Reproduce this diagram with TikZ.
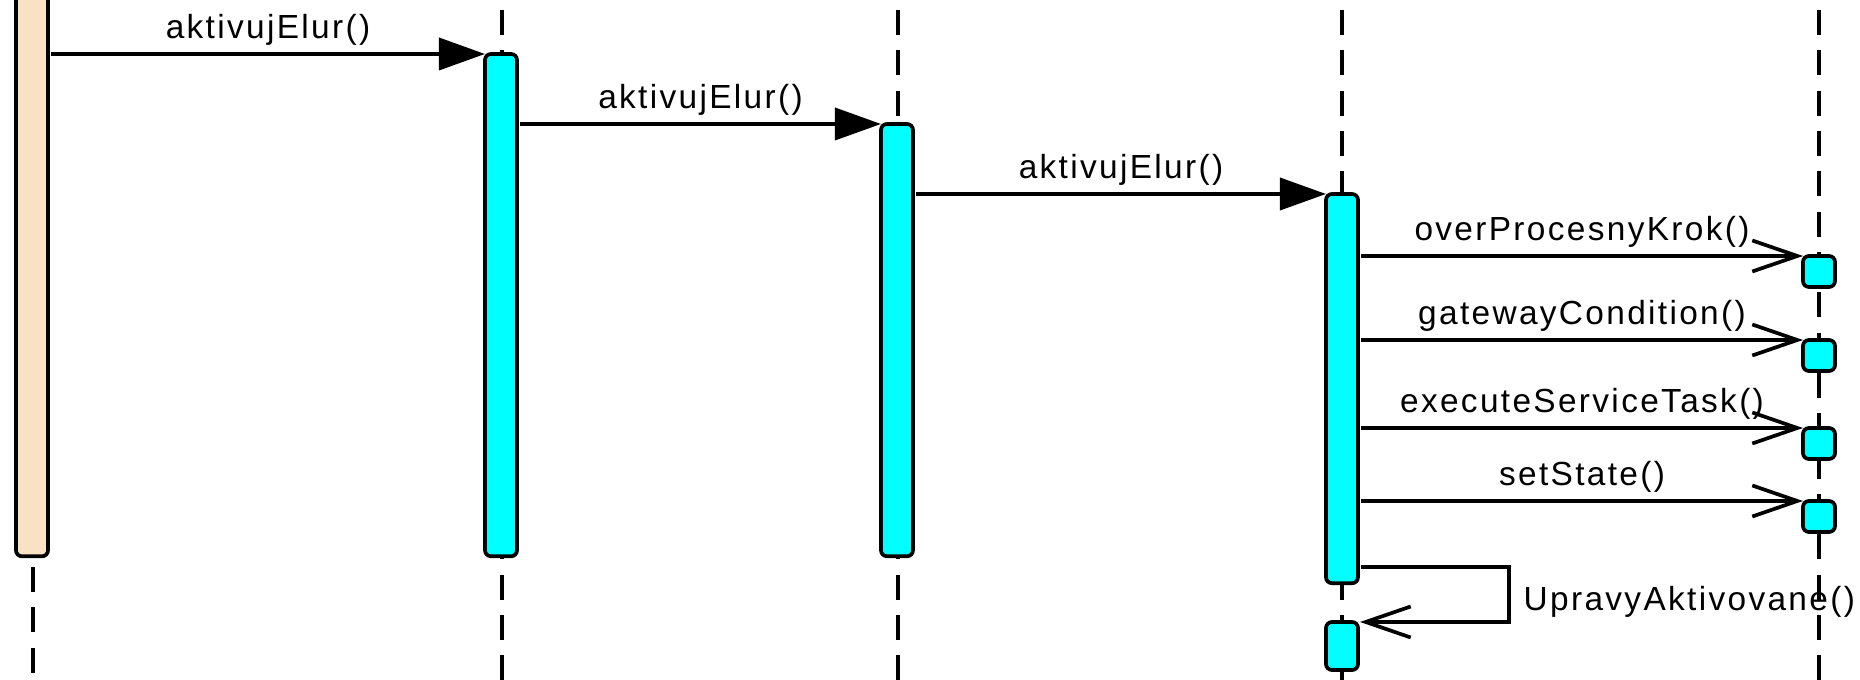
\documentclass[tikz,border=0pt]{standalone}
\usepackage{fontspec}
\setmainfont{Liberation Sans}[LetterSpace=7]
\usetikzlibrary{arrows.meta}
\definecolor{actcyan}{RGB}{0,255,255}
\definecolor{actbeige}{RGB}{249,225,195}
\begin{document}
\begin{tikzpicture}[x=0.01cm,y=-0.01cm,
  font=\fontsize{9.5pt}{11pt}\selectfont,
  lw/.style={line width=1.05pt},
  lifeline/.style={lw,dash pattern=on 0.25cm off 0.153cm},
  actbar/.style={draw,lw,fill=actcyan,rounded corners=0.06cm,minimum width=0.32cm,inner sep=0pt,outer sep=0pt,anchor=north},
  startbar/.style={actbar,fill=actbeige},
  callmsg/.style={lw,-{Triangle[length=0.46cm,width=0.32cm]}},
  asyncmsg/.style={lw,-{Straight Barb[length=0.45cm,width=0.31cm,line width=1.05pt]}},
  lbl/.style={anchor=base,inner sep=0pt,yshift=0.15cm}
]
\useasboundingbox (0,0) rectangle (1860,680);
% lifelines
\coordinate (l0t) at (33,567); \coordinate (l0b) at (33,700);
\coordinate (l1t) at (502,10); \coordinate (l1b) at (502,700);
\coordinate (l2t) at (898,10); \coordinate (l2b) at (898,700);
\coordinate (l3t) at (1342,10); \coordinate (l3b) at (1342,700);
\coordinate (l4t) at (1819,10); \coordinate (l4b) at (1819,700);
\draw[lifeline] (l0t) -- (l0b);
\draw[lifeline] (l1t) -- (l1b);
\draw[lifeline] (l2t) -- (l2b);
\draw[lifeline] (l3t) -- (l3b);
\draw[lifeline] (l4t) -- (l4b);
% activation bars
\node[startbar,minimum height=5.66cm] (b0) at (32,-10) {};
\node[actbar,minimum height=5.02cm] (a1) at (501,54) {};
\node[actbar,minimum height=4.32cm] (a2) at (897,124) {};
\node[actbar,minimum height=3.89cm] (a3) at (1342,194) {};
\node[actbar,minimum height=0.48cm] (a3b) at (1342,622) {};
\node[actbar,minimum height=0.31cm] (s1) at (1819,256) {};
\node[actbar,minimum height=0.31cm] (s2) at (1819,340) {};
\node[actbar,minimum height=0.31cm] (s3) at (1819,428) {};
\node[actbar,minimum height=0.31cm] (s4) at (1819,501) {};
% synchronous calls
\draw[callmsg] ([xshift=0.03cm]b0.east |- a1.north west) -- node[lbl] (t1) {aktivujElur()} (a1.north west);
\draw[callmsg] ([xshift=0.03cm]a1.east |- a2.north west) -- node[lbl] (t2) {aktivujElur()} (a2.north west);
\draw[callmsg] ([xshift=0.03cm]a2.east |- a3.north west) -- node[lbl] (t3) {aktivujElur()} (a3.north west);
% asynchronous calls
\draw[asyncmsg] ([xshift=0.03cm]a3.east |- s1.north west) -- node[lbl] (t4) {overProcesnyKrok()} (s1.north west);
\draw[asyncmsg] ([xshift=0.03cm]a3.east |- s2.north west) -- node[lbl] (t5) {gatewayCondition()} (s2.north west);
\draw[asyncmsg] ([xshift=0.03cm]a3.east |- s3.north west) -- node[lbl] (t6) {executeServiceTask()} (s3.north west);
\draw[asyncmsg] ([xshift=0.03cm]a3.east |- s4.north west) -- node[lbl] (t7) {setState()} (s4.north west);
% self call
\coordinate (sc) at (1509,567);
\draw[asyncmsg] ([xshift=0.03cm]a3.east |- sc) -- (sc) -- (sc |- a3b.north east) -- ([xshift=0.02cm]a3b.north east);
\node[anchor=base west,inner sep=0pt] (t8) at (1523,611) {UpravyAktivovane()};
\end{tikzpicture}
\end{document}
